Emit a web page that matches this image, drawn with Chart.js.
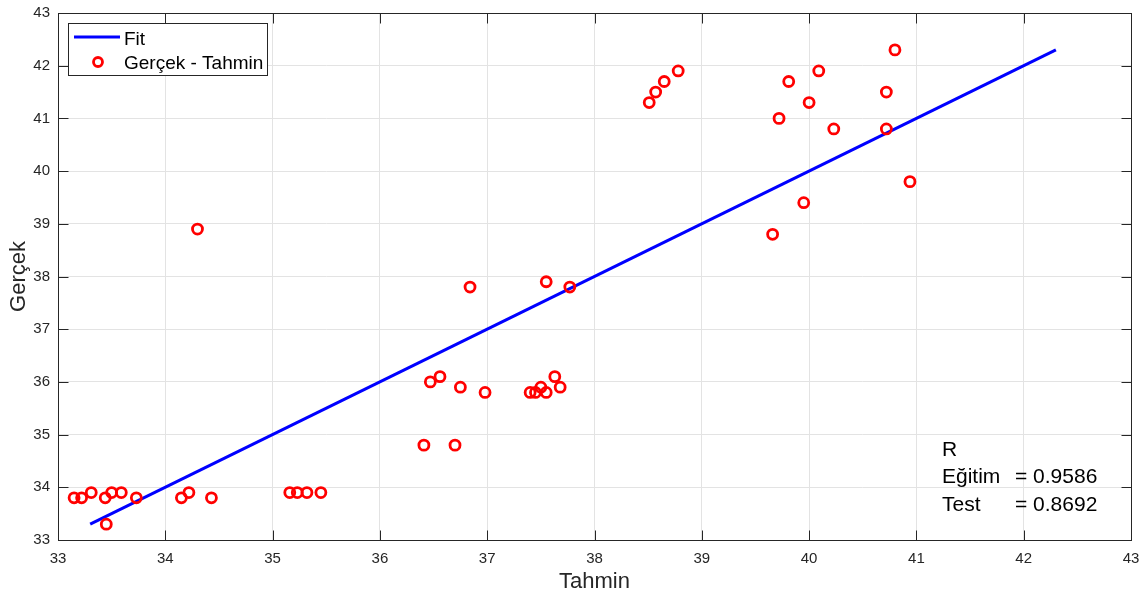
<!DOCTYPE html>
<html>
<head>
<meta charset="utf-8">
<script src="https://cdn.jsdelivr.net/npm/chart.js@4"></script>
<style>
  html, body { margin: 0; padding: 0; background: #fff; }
  #wrap { width: 1147px; height: 600px; position: relative; }
</style>
</head>
<body>
<div id="wrap"><canvas id="chartFit"></canvas></div>
<script>
// predicted vs actual values
const tahmin = [33.15, 33.22, 33.31, 33.44, 33.45, 33.50, 33.59, 33.73, 34.15, 34.22, 34.43,
                35.16, 35.23, 35.32, 35.45, 36.41, 36.70, 36.47, 36.56, 36.75, 36.98,
                37.40, 37.45, 37.50, 37.55, 37.63, 37.68, 36.84, 37.55, 37.77, 34.30,
                38.51, 38.57, 38.65, 38.78, 39.72, 39.81, 40.09, 40.00, 40.23, 40.80,
                40.72, 40.72, 40.94, 39.95, 39.66];
const gercek = [33.8, 33.8, 33.9, 33.8, 33.3, 33.9, 33.9, 33.8, 33.8, 33.9, 33.8,
                33.9, 33.9, 33.9, 33.9, 34.8, 34.8, 36.0, 36.1, 35.9, 35.8,
                35.8, 35.8, 35.9, 35.8, 36.1, 35.9, 37.8, 37.9, 37.8, 38.9,
                41.3, 41.5, 41.7, 41.9, 41.0, 41.7, 41.9, 41.3, 40.8, 42.3,
                41.5, 40.8, 39.8, 39.4, 38.8];

const tickValues = [33, 34, 35, 36, 37, 38, 39, 40, 41, 42, 43];
const rLabels = ["Eğitim", "Test"];
const rValues = [0.9586, 0.8692];

// fit line y = x across the range of actual values
const fitMin = Math.min(...gercek);
const fitMax = Math.max(...gercek);

const FONT = "'Liberation Sans', Arial, Helvetica, sans-serif";
const AXIS_COLOR = "#262626";

const points = tahmin.map((t, i) => ({ x: t, y: gercek[i] }));

// box, inner tick marks, legend and R text in MATLAB style
const matlabAxes = {
    id: "matlabAxes",
    afterDatasetsDraw(chart) {
        const ctx = chart.ctx;
        const a = chart.chartArea;
        const xs = chart.scales.x, ys = chart.scales.y;
        const L = Math.round(a.left) + 0.5, R = Math.round(a.right) + 0.5;
        const T = Math.round(a.top) + 0.5, B = Math.round(a.bottom) + 0.5;
        ctx.save();
        ctx.strokeStyle = AXIS_COLOR;
        ctx.lineWidth = 1;
        ctx.strokeRect(L, T, R - L, B - T);
        const tl = 10;
        ctx.beginPath();
        tickValues.forEach(v => {
            const px = Math.round(xs.getPixelForValue(v)) + 0.5;
            ctx.moveTo(px, B); ctx.lineTo(px, B - tl);
            ctx.moveTo(px, T); ctx.lineTo(px, T + tl);
            const py = Math.round(ys.getPixelForValue(v)) + 0.5;
            ctx.moveTo(L, py); ctx.lineTo(L + tl, py);
            ctx.moveTo(R, py); ctx.lineTo(R - tl, py);
        });
        ctx.stroke();

        // legend
        const lx = 68.5, ly = 23.5, lw = 199, lh = 52;
        ctx.fillStyle = "#fff";
        ctx.fillRect(lx, ly, lw, lh);
        ctx.strokeStyle = AXIS_COLOR;
        ctx.strokeRect(lx, ly, lw, lh);
        ctx.strokeStyle = "#0000ff";
        ctx.lineWidth = 3;
        ctx.beginPath();
        ctx.moveTo(74, 37); ctx.lineTo(120, 37);
        ctx.stroke();
        ctx.strokeStyle = "#ff0000";
        ctx.lineWidth = 2.8;
        ctx.beginPath();
        ctx.arc(98, 62, 4.5, 0, Math.PI * 2);
        ctx.stroke();
        ctx.fillStyle = "#000";
        ctx.font = "19px " + FONT;
        ctx.textBaseline = "alphabetic";
        ctx.textAlign = "left";
        ctx.fillText(chart.data.datasets[0].label, 124, 45);
        ctx.fillText(chart.data.datasets[1].label, 124, 69);

        // R values
        ctx.font = "21px " + FONT;
        ctx.fillText("R", 942, 456);
        rLabels.forEach((lab, i) => {
            const y = 483 + i * 28;
            ctx.fillText(lab, 942, y);
            ctx.fillText("= " + rValues[i].toFixed(4), 1015, y);
        });
        ctx.restore();
    }
};

const chart = new Chart(document.getElementById("chartFit"), {
    type: "scatter",
    data: {
        datasets: [
            {
                label: "Fit",
                type: "line",
                data: [{ x: fitMin, y: fitMin }, { x: fitMax, y: fitMax }],
                borderColor: "#0000ff",
                borderWidth: 3,
                pointRadius: 0,
                fill: false,
                order: 2
            },
            {
                label: "Gerçek - Tahmin",
                data: points,
                pointStyle: "circle",
                pointRadius: 5,
                pointBorderWidth: 2.8,
                pointBorderColor: "#ff0000",
                pointBackgroundColor: "rgba(255,255,255,0)",
                order: 1
            }
        ]
    },
    options: {
        responsive: true,
        maintainAspectRatio: false,
        animation: false,
        layout: { padding: { left: 0, right: 16, top: 13, bottom: 0 } },
        plugins: {
            legend: { display: false },
            tooltip: { enabled: false }
        },
        scales: {
            x: {
                type: "linear",
                min: 33, max: 43,
                afterBuildTicks: s => { s.ticks = tickValues.map(v => ({ value: v })); },
                afterFit: s => { s.height = 60; s.paddingLeft = 0; s.paddingRight = 0; },
                grid: { color: "#e3e3e3", drawTicks: false },
                border: { display: false },
                ticks: { color: AXIS_COLOR, padding: 10, font: { family: FONT, size: 15 } },
                title: { display: true, text: "Tahmin", color: AXIS_COLOR, padding: { top: 0, bottom: 5 }, font: { family: FONT, size: 22 } }
            },
            y: {
                type: "linear",
                min: 33, max: 43,
                afterBuildTicks: s => { s.ticks = tickValues.map(v => ({ value: v })); },
                afterFit: s => { s.width = 58; s.paddingTop = 0; s.paddingBottom = 0; },
                grid: { color: "#e3e3e3", drawTicks: false },
                border: { display: false },
                ticks: { color: AXIS_COLOR, padding: 8, font: { family: FONT, size: 15 } },
                title: { display: true, text: "Gerçek", color: AXIS_COLOR, padding: { top: 6, bottom: 0 }, font: { family: FONT, size: 22 } }
            }
        }
    },
    plugins: [matlabAxes]
});
</script>
</body>
</html>
